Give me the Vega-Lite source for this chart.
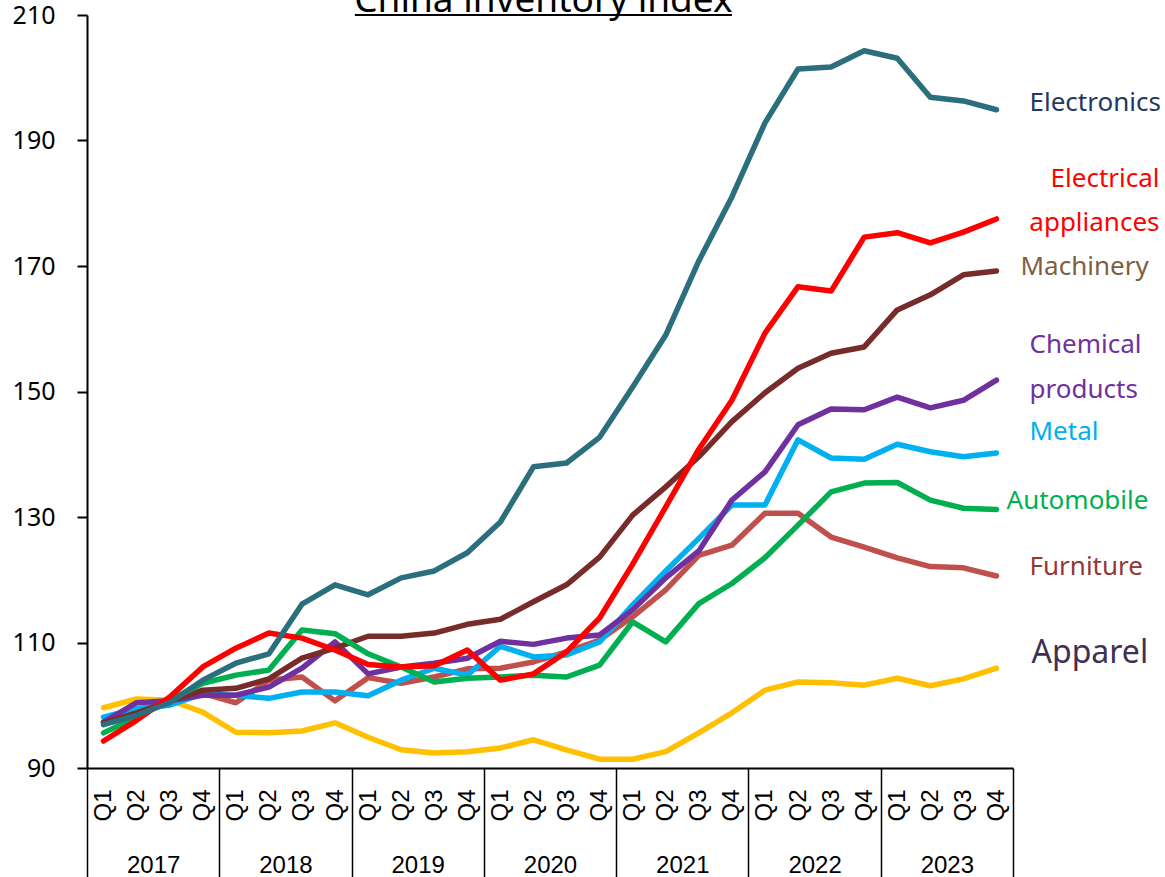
{
  "$schema": "https://vega.github.io/schema/vega-lite/v6.json",
  "width": 926,
  "height": 753,
  "autosize": {"type": "none"},
  "padding": {"left": 87, "top": 15, "right": 152, "bottom": 109},
  "background": "white",
  "config": {
    "view": {"stroke": null},
    "axis": {"grid": false, "domainColor": "black", "tickColor": "black", "labelColor": "black", "domainWidth": 2, "tickWidth": 2, "labelFlush": false, "labelOverlap": false}
  },
  "datasets": {
    "series": [
      {"period": "2017 Q1", "idx": 0, "Apparel": 99.6, "Furniture": 97.3, "Metal": 98.1, "Chemical products": 97.3, "Machinery": 97.2, "Automobile": 95.6, "Electrical appliances": 94.3, "Electronics": 96.9},
      {"period": "2017 Q2", "idx": 1, "Apparel": 101.0, "Furniture": 99.2, "Metal": 99.5, "Chemical products": 100.4, "Machinery": 98.8, "Automobile": 98.1, "Electrical appliances": 97.6, "Electronics": 98.4},
      {"period": "2017 Q3", "idx": 2, "Apparel": 100.8, "Furniture": 100.5, "Metal": 100.0, "Chemical products": 100.7, "Machinery": 100.6, "Automobile": 100.8, "Electrical appliances": 101.3, "Electronics": 100.4},
      {"period": "2017 Q4", "idx": 3, "Apparel": 98.9, "Furniture": 101.9, "Metal": 101.8, "Chemical products": 101.6, "Machinery": 102.4, "Automobile": 103.5, "Electrical appliances": 106.1, "Electronics": 104.0},
      {"period": "2018 Q1", "idx": 4, "Apparel": 95.7, "Furniture": 100.4, "Metal": 101.6, "Chemical products": 101.6, "Machinery": 102.7, "Automobile": 104.8, "Electrical appliances": 109.1, "Electronics": 106.7},
      {"period": "2018 Q2", "idx": 5, "Apparel": 95.6, "Furniture": 104.0, "Metal": 101.1, "Chemical products": 102.9, "Machinery": 104.2, "Automobile": 105.6, "Electrical appliances": 111.5, "Electronics": 108.2},
      {"period": "2018 Q3", "idx": 6, "Apparel": 95.9, "Furniture": 104.5, "Metal": 102.1, "Chemical products": 105.9, "Machinery": 107.5, "Automobile": 112.0, "Electrical appliances": 110.7, "Electronics": 116.1},
      {"period": "2018 Q4", "idx": 7, "Apparel": 97.2, "Furniture": 100.7, "Metal": 102.1, "Chemical products": 110.1, "Machinery": 109.1, "Automobile": 111.4, "Electrical appliances": 108.8, "Electronics": 119.2},
      {"period": "2019 Q1", "idx": 8, "Apparel": 94.9, "Furniture": 104.4, "Metal": 101.5, "Chemical products": 105.0, "Machinery": 111.0, "Automobile": 108.2, "Electrical appliances": 106.5, "Electronics": 117.6},
      {"period": "2019 Q2", "idx": 9, "Apparel": 92.9, "Furniture": 103.5, "Metal": 104.0, "Chemical products": 106.1, "Machinery": 111.0, "Automobile": 106.1, "Electrical appliances": 106.1, "Electronics": 120.3},
      {"period": "2019 Q3", "idx": 10, "Apparel": 92.4, "Furniture": 104.5, "Metal": 105.9, "Chemical products": 106.7, "Machinery": 111.5, "Automobile": 103.7, "Electrical appliances": 106.3, "Electronics": 121.4},
      {"period": "2019 Q4", "idx": 11, "Apparel": 92.6, "Furniture": 105.8, "Metal": 104.8, "Chemical products": 107.5, "Machinery": 112.9, "Automobile": 104.3, "Electrical appliances": 108.8, "Electronics": 124.3},
      {"period": "2020 Q1", "idx": 12, "Apparel": 93.2, "Furniture": 105.9, "Metal": 109.4, "Chemical products": 110.2, "Machinery": 113.7, "Automobile": 104.5, "Electrical appliances": 104.0, "Electronics": 129.2},
      {"period": "2020 Q2", "idx": 13, "Apparel": 94.5, "Furniture": 106.9, "Metal": 107.7, "Chemical products": 109.7, "Machinery": 116.5, "Automobile": 104.8, "Electrical appliances": 105.0, "Electronics": 138.0},
      {"period": "2020 Q3", "idx": 14, "Apparel": 92.9, "Furniture": 108.5, "Metal": 108.0, "Chemical products": 110.7, "Machinery": 119.2, "Automobile": 104.5, "Electrical appliances": 108.5, "Electronics": 138.6},
      {"period": "2020 Q4", "idx": 15, "Apparel": 91.4, "Furniture": 110.4, "Metal": 110.1, "Chemical products": 111.2, "Machinery": 123.6, "Automobile": 106.4, "Electrical appliances": 113.9, "Electronics": 142.7},
      {"period": "2021 Q1", "idx": 16, "Apparel": 91.4, "Furniture": 114.1, "Metal": 116.0, "Chemical products": 115.2, "Machinery": 130.3, "Automobile": 113.3, "Electrical appliances": 122.5, "Electronics": 150.7},
      {"period": "2021 Q2", "idx": 17, "Apparel": 92.6, "Furniture": 118.4, "Metal": 121.4, "Chemical products": 120.3, "Machinery": 134.8, "Automobile": 110.1, "Electrical appliances": 131.6, "Electronics": 159.0},
      {"period": "2021 Q3", "idx": 18, "Apparel": 95.6, "Furniture": 123.9, "Metal": 126.6, "Chemical products": 124.6, "Machinery": 139.6, "Automobile": 116.2, "Electrical appliances": 140.8, "Electronics": 170.8},
      {"period": "2021 Q4", "idx": 19, "Apparel": 98.8, "Furniture": 125.5, "Metal": 131.9, "Chemical products": 132.7, "Machinery": 145.2, "Automobile": 119.4, "Electrical appliances": 148.6, "Electronics": 181.0},
      {"period": "2022 Q1", "idx": 20, "Apparel": 102.4, "Furniture": 130.6, "Metal": 131.9, "Chemical products": 137.2, "Machinery": 149.8, "Automobile": 123.5, "Electrical appliances": 159.3, "Electronics": 192.8},
      {"period": "2022 Q2", "idx": 21, "Apparel": 103.7, "Furniture": 130.6, "Metal": 142.3, "Chemical products": 144.7, "Machinery": 153.7, "Automobile": 128.7, "Electrical appliances": 166.7, "Electronics": 201.4},
      {"period": "2022 Q3", "idx": 22, "Apparel": 103.6, "Furniture": 126.8, "Metal": 139.4, "Chemical products": 147.2, "Machinery": 156.1, "Automobile": 134.0, "Electrical appliances": 166.0, "Electronics": 201.7},
      {"period": "2022 Q4", "idx": 23, "Apparel": 103.2, "Furniture": 125.2, "Metal": 139.2, "Chemical products": 147.1, "Machinery": 157.1, "Automobile": 135.4, "Electrical appliances": 174.6, "Electronics": 204.3},
      {"period": "2023 Q1", "idx": 24, "Apparel": 104.3, "Furniture": 123.5, "Metal": 141.6, "Chemical products": 149.1, "Machinery": 163.0, "Automobile": 135.5, "Electrical appliances": 175.3, "Electronics": 203.1},
      {"period": "2023 Q2", "idx": 25, "Apparel": 103.1, "Furniture": 122.1, "Metal": 140.4, "Chemical products": 147.4, "Machinery": 165.4, "Automobile": 132.7, "Electrical appliances": 173.7, "Electronics": 196.9},
      {"period": "2023 Q3", "idx": 26, "Apparel": 104.2, "Furniture": 121.9, "Metal": 139.6, "Chemical products": 148.6, "Machinery": 168.6, "Automobile": 131.4, "Electrical appliances": 175.4, "Electronics": 196.3},
      {"period": "2023 Q4", "idx": 27, "Apparel": 105.9, "Furniture": 120.6, "Metal": 140.2, "Chemical products": 151.8, "Machinery": 169.2, "Automobile": 131.2, "Electrical appliances": 177.5, "Electronics": 194.9}
    ],
    "labels": [
      {"s": "Electronics", "t": "Electronics", "v": 196.0},
      {"s": "Electrical appliances", "t": "Electrical", "v": 183.9},
      {"s": "Electrical appliances", "t": "appliances", "v": 176.9},
      {"s": "Machinery", "t": "Machinery", "v": 169.8},
      {"s": "Chemical products", "t": "Chemical", "v": 157.4},
      {"s": "Chemical products", "t": "products", "v": 150.2},
      {"s": "Metal", "t": "Metal", "v": 143.5},
      {"s": "Automobile", "t": "Automobile", "v": 132.5},
      {"s": "Furniture", "t": "Furniture", "v": 122.0},
      {"s": "Apparel", "t": "Apparel", "v": 108.3}
    ]
  },
  "resolve": {"axis": {"x": "independent"}, "scale": {"color": "independent"}},
  "layer": [
    {
      "data": {"name": "series"},
      "transform": [{"fold": ["Apparel", "Furniture", "Metal", "Chemical products", "Machinery", "Automobile", "Electrical appliances", "Electronics"], "as": ["series", "value"]}],
      "mark": {"type": "line", "strokeWidth": 5.5, "strokeJoin": "round", "strokeCap": "round"},
      "encoding": {
        "x": {
          "field": "idx", "type": "quantitative",
          "scale": {"domain": [-0.5, 27.5], "nice": false, "zero": false},
          "axis": {"orient": "bottom", "title": null, "values": [0,1,2,3,4,5,6,7,8,9,10,11,12,13,14,15,16,17,18,19,20,21,22,23,24,25,26,27], "labelExpr": "'Q' + (datum.value % 4 + 1)", "labelAngle": -90, "labelAlign": "right", "labelBaseline": "middle", "labelFont": "Liberation Sans", "labelFontSize": 24, "labelPadding": 21, "ticks": false, "tickSize": 0, "domain": true}
        },
        "y": {
          "field": "value", "type": "quantitative",
          "scale": {"domain": [90, 210], "nice": false, "zero": false},
          "axis": {"orient": "left", "title": null, "values": [90, 110, 130, 150, 170, 190, 210], "ticks": true, "tickSize": 10, "domain": true, "labels": true, "labelFont": "Noto Sans", "labelFontSize": 25, "labelPadding": 22}
        },
        "color": {
          "field": "series", "type": "nominal", "legend": null,
          "scale": {"domain": ["Apparel", "Furniture", "Metal", "Chemical products", "Machinery", "Automobile", "Electrical appliances", "Electronics"], "range": ["#FFC000", "#C0504D", "#00B0F0", "#7030A0", "#772C2A", "#00B050", "#FF0000", "#2B6E7E"]}
        }
      }
    },
    {
      "data": {"name": "series"},
      "mark": {"type": "point", "opacity": 0},
      "encoding": {
        "x": {
          "field": "idx", "type": "quantitative",
          "axis": {"orient": "bottom", "title": null, "values": [1.5, 5.5, 9.5, 13.5, 17.5, 21.5, 25.5], "labelExpr": "'' + (2017 + (datum.value - 1.5) / 4)", "labelAngle": 0, "labelAlign": "center", "labelBaseline": "top", "labelFont": "Liberation Sans", "labelFontSize": 24, "labelPadding": 85, "ticks": false, "tickSize": 0, "domain": false}
        }
      }
    },
    {
      "data": {"name": "series"},
      "mark": {"type": "point", "opacity": 0},
      "encoding": {
        "x": {
          "field": "idx", "type": "quantitative",
          "axis": {"orient": "bottom", "title": null, "values": [-0.5, 3.5, 7.5, 11.5, 15.5, 19.5, 23.5, 27.5], "labels": false, "ticks": true, "tickSize": 115, "tickWidth": 1.5, "domain": false}
        }
      }
    },
    {
      "data": {"values": [{"title": "China inventory index"}]},
      "mark": {"type": "text", "align": "center", "baseline": "alphabetic", "font": "Noto Sans", "fontSize": 37, "color": "black", "dy": -3},
      "encoding": {
        "x": {"datum": 13.3, "type": "quantitative", "axis": null},
        "y": {"datum": 210, "type": "quantitative"},
        "text": {"field": "title"}
      }
    },
    {
      "data": {"values": [{"title": "China inventory index"}]},
      "mark": {"type": "rule", "color": "black", "strokeWidth": 2, "dy": -1},
      "encoding": {
        "x": {"datum": 7.6, "type": "quantitative", "axis": null},
        "x2": {"datum": 19.0},
        "y": {"datum": 210, "type": "quantitative"}
      }
    },
    {
      "data": {"name": "labels"},
      "transform": [{"filter": {"field": "s", "oneOf": ["Electronics", "Chemical products", "Metal", "Furniture"]}}],
      "mark": {"type": "text", "align": "left", "baseline": "middle", "font": "Noto Sans", "fontSize": 26},
      "encoding": {
        "x": {"datum": 28, "type": "quantitative", "axis": null},
        "y": {"field": "v", "type": "quantitative"},
        "text": {"field": "t"},
        "color": {
          "field": "s", "type": "nominal", "legend": null,
          "scale": {"domain": ["Electronics", "Chemical products", "Metal", "Furniture"], "range": ["#1F3864", "#7030A0", "#00B0F0", "#953735"]}
        }
      }
    },
    {
      "data": {"name": "labels"},
      "transform": [{"filter": "datum.s === 'Electrical appliances'"}],
      "mark": {"type": "text", "align": "right", "baseline": "middle", "font": "Noto Sans", "fontSize": 26, "color": "#FF0000", "dx": 130},
      "encoding": {
        "x": {"datum": 28, "type": "quantitative", "axis": null},
        "y": {"field": "v", "type": "quantitative"},
        "text": {"field": "t"}
      }
    },
    {
      "data": {"name": "labels"},
      "transform": [{"filter": "datum.s === 'Machinery'"}],
      "mark": {"type": "text", "align": "left", "baseline": "middle", "font": "Noto Sans", "fontSize": 26, "color": "#7F5F3F", "dx": -9},
      "encoding": {
        "x": {"datum": 28, "type": "quantitative", "axis": null},
        "y": {"field": "v", "type": "quantitative"},
        "text": {"field": "t"}
      }
    },
    {
      "data": {"name": "labels"},
      "transform": [{"filter": "datum.s === 'Automobile'"}],
      "mark": {"type": "text", "align": "left", "baseline": "middle", "font": "Noto Sans", "fontSize": 26, "color": "#00B050", "dx": -23},
      "encoding": {
        "x": {"datum": 28, "type": "quantitative", "axis": null},
        "y": {"field": "v", "type": "quantitative"},
        "text": {"field": "t"}
      }
    },
    {
      "data": {"name": "labels"},
      "transform": [{"filter": "datum.s === 'Apparel'"}],
      "mark": {"type": "text", "align": "left", "baseline": "middle", "font": "Noto Sans", "fontSize": 32, "color": "#403152", "dx": 2},
      "encoding": {
        "x": {"datum": 28, "type": "quantitative", "axis": null},
        "y": {"field": "v", "type": "quantitative"},
        "text": {"field": "t"}
      }
    }
  ]
}
